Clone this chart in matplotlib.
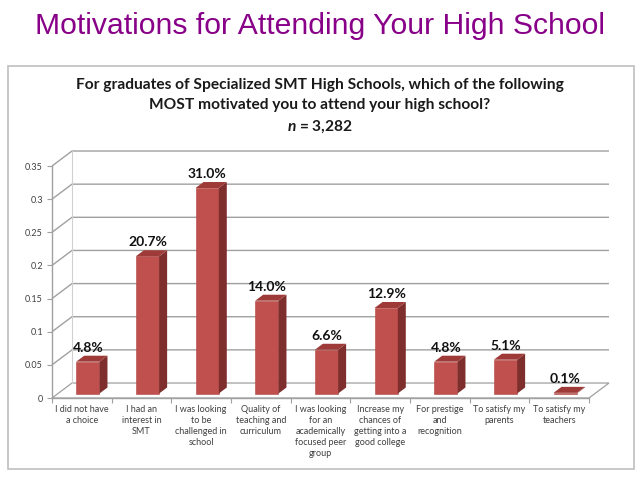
import matplotlib
matplotlib.use("Agg")
import matplotlib.pyplot as plt
from matplotlib.patches import Polygon, Rectangle
from matplotlib.ticker import FixedLocator, FuncFormatter

categories = [
    "I did not have\na choice",
    "I had an\ninterest in\nSMT",
    "I was looking\nto be\nchallenged in\nschool",
    "Quality of\nteaching and\ncurriculum",
    "I was looking\nfor an\nacademically\nfocused peer\ngroup",
    "Increase my\nchances of\ngetting into a\ngood college",
    "For prestige\nand\nrecognition",
    "To satisfy my\nparents",
    "To satisfy my\nteachers",
]
values = [0.048, 0.207, 0.310, 0.140, 0.066, 0.129, 0.048, 0.051, 0.001]
y_ticks = [0, 0.05, 0.1, 0.15, 0.2, 0.25, 0.3, 0.35]
main_title = "Motivations for Attending Your High School"
chart_title_lines = [
    "For graduates of Specialized SMT High Schools, which of the following",
    "MOST motivated you to attend your high school?",
]
n_text = r"$\mathit{n}$ = 3,282"

plt.rcParams['mathtext.fontset'] = 'custom'
plt.rcParams['mathtext.it'] = 'Lato:italic:bold'
plt.rcParams['mathtext.rm'] = 'Lato:bold'
plt.rcParams['font.family'] = ['Lato', 'DejaVu Sans']

W, H = 640, 478
fig = plt.figure(figsize=(W / 100, H / 100), dpi=100)
fig.patch.set_facecolor('white')

# outer chart frame
fig.patches.append(Rectangle((8 / W, 1 - 469 / H), 626 / W, 403 / H,
                             transform=fig.transFigure, fill=False,
                             edgecolor='#BFBFBF', lw=1.2))

fig.text(0.5, 1 - 26 / H, main_title, ha='center', va='center',
         color='#880088', fontsize=21.7, family=['Liberation Sans'])

fig.text(0.5, 1 - 85 / H, chart_title_lines[0], ha='center', va='center',
         fontsize=11.2, fontweight='bold', color='#1a1a1a')
fig.text(0.5, 1 - 105 / H, chart_title_lines[1], ha='center', va='center',
         fontsize=11.2, fontweight='bold', color='#1a1a1a')
fig.text(0.5, 1 - 127 / H, n_text, ha='center', va='center',
         fontsize=11.2, fontweight='bold', color='#1a1a1a')

ax = fig.add_axes([52 / W, 1 - 398 / H, (589 - 52) / W, (398 - 166) / H])
ax.set_facecolor('none')
ncat = len(categories)
ax.set_xlim(0, ncat)
ax.set_ylim(0, 0.35)

DX, DY = 0.335, 0.0226      # depth offset of the back wall
f0, f1 = 0.3, 0.7           # bar depth placement
bw = 0.39
grid_c = '#A0A0A0'

# floor
ax.add_patch(Polygon([(0, 0), (DX, DY), (ncat + DX, DY), (ncat, 0)],
                     closed=True, facecolor='white', edgecolor=grid_c,
                     lw=0.9, clip_on=False, zorder=1))
# back wall & side wall gridlines
for t in y_ticks:
    if t == 0:
        continue
    ax.plot([0, DX, ncat + DX], [t, t + DY, t + DY], color=grid_c, lw=1.0,
            clip_on=False, zorder=1, solid_capstyle='butt')
ax.plot([DX, DX], [DY, 0.35 + DY], color='#D0D0D0', lw=0.8, clip_on=False, zorder=1)

front_c = '#C0504D'
top_c = '#9E3B39'
side_c = '#7E2F2D'
xs = [i + 0.5 + f0 * DX for i in range(ncat)]
ax.bar(xs, values, width=bw, bottom=f0 * DY, color=front_c,
       edgecolor='#B04542', lw=0.4, zorder=3, clip_on=False)
ddx = (f1 - f0) * DX
ddy = (f1 - f0) * DY
for x, v in zip(xs, values):
    xl, xr = x - bw / 2, x + bw / 2
    yb, yt = f0 * DY, v + f0 * DY
    ax.add_patch(Polygon([(xr, yb), (xr + ddx, yb + ddy), (xr + ddx, yt + ddy), (xr, yt)],
                         closed=True, facecolor=side_c, edgecolor='none',
                         zorder=3, clip_on=False))
    ax.add_patch(Polygon([(xl, yt), (xr, yt), (xr + ddx, yt + ddy), (xl + ddx, yt + ddy)],
                         closed=True, facecolor=top_c, edgecolor='none',
                         zorder=3, clip_on=False))
    ax.annotate(f"{v * 100:.1f}%", xy=(x, yt + ddy), xytext=(0, 3),
                textcoords='offset points', ha='center', va='baseline',
                fontsize=10, fontweight='bold', color='#111111', zorder=5)

for s in ['top', 'right', 'bottom']:
    ax.spines[s].set_visible(False)
ax.spines['left'].set_color(grid_c)
ax.spines['left'].set_linewidth(1.0)
ax.plot([0, ncat], [0, 0], color=grid_c, lw=1.0, clip_on=False, zorder=2)

ax.yaxis.set_major_locator(FixedLocator(y_ticks))
ax.yaxis.set_major_formatter(FuncFormatter(lambda v, p: f"{v:g}"))
ax.tick_params(axis='y', length=3.5, width=0.8, color=grid_c, pad=3,
               labelsize=6.5, labelcolor='#404040')

ax.set_xticks([i + 0.5 for i in range(ncat)])
ax.set_xticklabels(categories, fontsize=6.5, color='#404040', linespacing=1.3,
                   va='top')
ax.set_xticks(range(ncat + 1), minor=True)
ax.tick_params(axis='x', which='major', length=0, pad=5)
ax.tick_params(axis='x', which='minor', length=3.5, width=0.8, color=grid_c)

fig.savefig('out.png', dpi=100)
